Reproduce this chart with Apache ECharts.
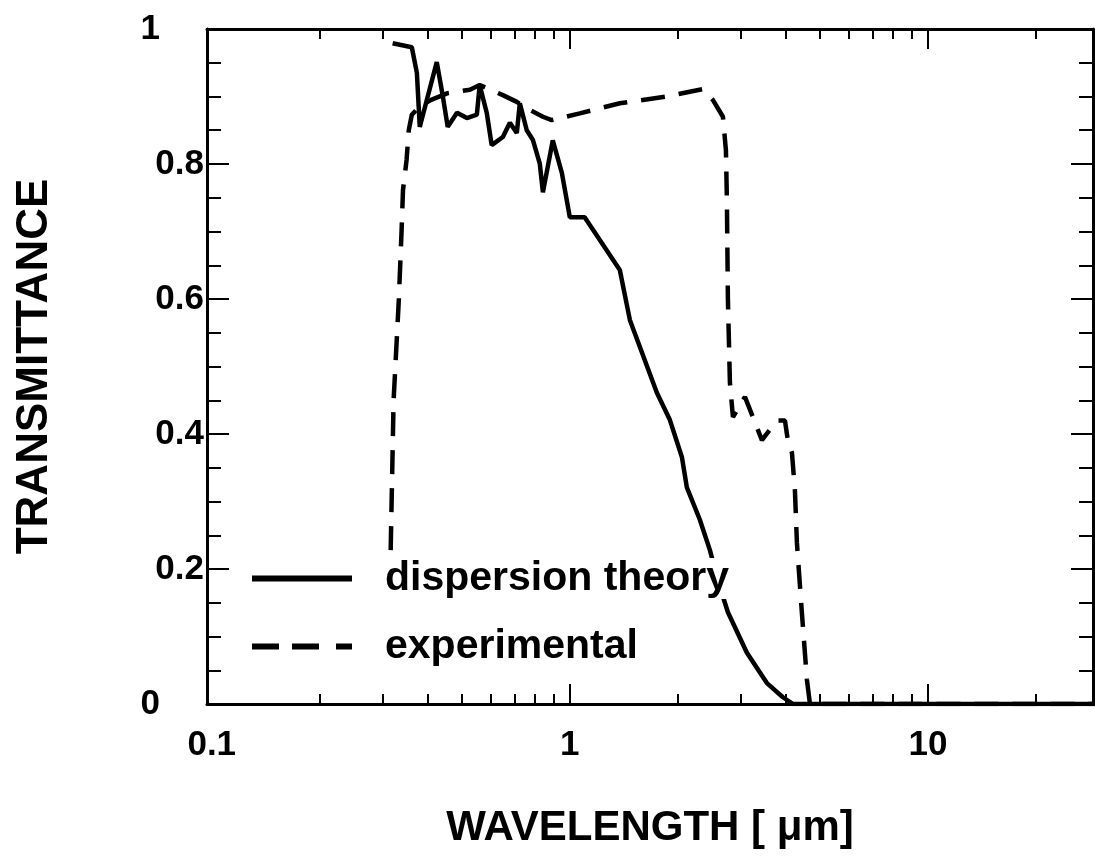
<!DOCTYPE html>
<html><head><meta charset="utf-8">
<script src="https://cdn.jsdelivr.net/npm/echarts@6/dist/echarts.min.js"></script>
<style>html,body{margin:0;padding:0;background:#fff}#c{width:1095px;height:856px}</style>
</head><body><div id="c"></div>
<script>
const solidX = [0.320,0.362,0.374,0.381,0.401,0.425,0.442,0.456,0.484,0.516,0.550,0.560,0.586,0.605,0.650,0.680,0.711,0.725,0.758,0.788,0.824,0.841,0.896,0.950,1.0,1.10,1.379,1.471,1.569,1.750,1.902,2.055,2.122,2.307,2.461,2.60,2.763,3.122,3.550,3.936,4.2,30];
const solidY = [0.979,0.973,0.935,0.855,0.900,0.951,0.900,0.855,0.876,0.868,0.873,0.917,0.876,0.828,0.840,0.861,0.846,0.890,0.850,0.836,0.801,0.758,0.835,0.787,0.721,0.721,0.643,0.569,0.529,0.461,0.421,0.366,0.321,0.273,0.228,0.180,0.136,0.076,0.031,0.010,0.0,0.0];
const dashX = [0.316,0.322,0.333,0.339,0.342,0.350,0.355,0.362,0.38,0.41,0.456,0.526,0.560,0.650,0.711,0.773,0.841,0.89,1.066,1.379,1.866,2.351,2.508,2.676,2.728,2.745,2.763,2.799,2.854,3.083,3.438,3.786,3.987,4.064,4.171,4.251,4.306,4.446,4.592,4.683,30];
const dashY = [0.228,0.45,0.599,0.702,0.761,0.806,0.850,0.873,0.885,0.895,0.905,0.91,0.917,0.902,0.892,0.88,0.870,0.865,0.875,0.89,0.90,0.911,0.895,0.87,0.82,0.747,0.60,0.476,0.425,0.455,0.391,0.42,0.42,0.39,0.372,0.317,0.239,0.135,0.036,0.0,0.0];
const seriesNames = ['dispersion theory', 'experimental'];
const xLabelValues = [0.1, 1, 10];
const xMajorTicks = [1, 10];
const xMinorTicks = [0.2,0.3,0.4,0.5,0.6,0.7,0.8,0.9,2,3,4,5,6,7,8,9,20];
const xRange = [0.097, 28.9];
const yRange = [0, 1];
const yStep = 0.2;

const FONT = '"Liberation Sans", Arial, sans-serif';
const chart = echarts.init(document.getElementById('c'), null, {renderer: 'canvas'});
const zip = (a, b) => a.map((v, i) => [v, b[i]]);
const lineCol = '#000';

function xAxisDef(pos, ticks, len, labels, line) {
  return {
    type: 'log', logBase: 10, min: xRange[0], max: xRange[1], position: pos,
    axisLine: {show: line, lineStyle: {color: lineCol, width: 3}},
    axisTick: {show: true, inside: true, length: len, lineStyle: {color: lineCol, width: 2}, customValues: ticks},
    axisLabel: {show: labels, customValues: xLabelValues, color: '#000', fontSize: 35, fontWeight: 'bold', fontFamily: FONT, margin: 24,
      formatter: v => String(v)},
    splitLine: {show: false}, minorTick: {show: false}, minorSplitLine: {show: false},
    name: labels ? 'WAVELENGTH [ μm]' : '', nameLocation: 'middle', nameGap: 103,
    nameTextStyle: {color: '#000', fontSize: 42, fontWeight: 'bold', fontFamily: FONT}
  };
}
function yAxisDef(pos, labels) {
  return {
    type: 'value', min: yRange[0], max: yRange[1], interval: yStep, position: pos,
    axisLine: {show: true, lineStyle: {color: lineCol, width: 3}},
    axisTick: {show: true, inside: true, length: 22, lineStyle: {color: lineCol, width: 2}},
    minorTick: {show: true, splitNumber: 4, length: 14, lineStyle: {color: lineCol, width: 2}},
    splitLine: {show: false}, minorSplitLine: {show: false},
    axisLabel: {show: labels, color: '#000', fontSize: 35, fontWeight: 'bold', fontFamily: FONT, margin: 3,
      formatter: v => (v === 0 || v === 1) ? '{i|' + v + '}' : v.toFixed(1),
      rich: {i: {fontSize: 35, fontWeight: 'bold', fontFamily: FONT, color: '#000', padding: [0, 44, 0, 0]}}},
    name: labels ? 'TRANSMITTANCE' : '', nameLocation: 'middle', nameGap: 150, nameRotate: 90,
    nameTextStyle: {color: '#000', fontSize: 44, fontWeight: 'bold', fontFamily: FONT}
  };
}

const solidIcon = 'path://M0,0H100V6H0Z';
const dashIcon = 'path://M0,0H27V6H0Z M40,0H67V6H40Z M84,0H100V6H84Z';
chart.setOption({
  animation: false,
  backgroundColor: '#fff',
  grid: {left: 207, top: 29, width: 886, height: 675, containLabel: false},
  xAxis: [
    xAxisDef('bottom', xMajorTicks, 20, true, true),
    xAxisDef('bottom', xMinorTicks, 10, false, false),
    xAxisDef('top', xMajorTicks, 20, false, true),
    xAxisDef('top', xMinorTicks, 10, false, false)
  ],
  yAxis: [yAxisDef('left', true), yAxisDef('right', false)],
  legend: {
    orient: 'vertical', left: 252, top: 558, itemWidth: 100, itemHeight: 6, itemGap: 27,
    padding: 0, symbolKeepAspect: false,
    itemStyle: {color: '#000', borderWidth: 0},
    textStyle: {color: '#000', fontSize: 41, fontWeight: 'bold', fontFamily: FONT, backgroundColor: '#fff', padding: [0, 0, 0, 28]},
    data: [
      {name: seriesNames[0], icon: solidIcon},
      {name: seriesNames[1], icon: dashIcon}
    ]
  },
  series: [
    {name: seriesNames[0], type: 'line', data: zip(solidX, solidY), showSymbol: false, symbol: 'none',
      lineStyle: {color: '#000', width: 4.5}, itemStyle: {color: '#000'}, z: 3},
    {name: seriesNames[1], type: 'line', data: zip(dashX, dashY), showSymbol: false, symbol: 'none',
      lineStyle: {color: '#000', width: 4.5, type: [24, 14], cap: 'butt'}, itemStyle: {color: '#000'}, z: 3}
  ]
});
</script></body></html>
